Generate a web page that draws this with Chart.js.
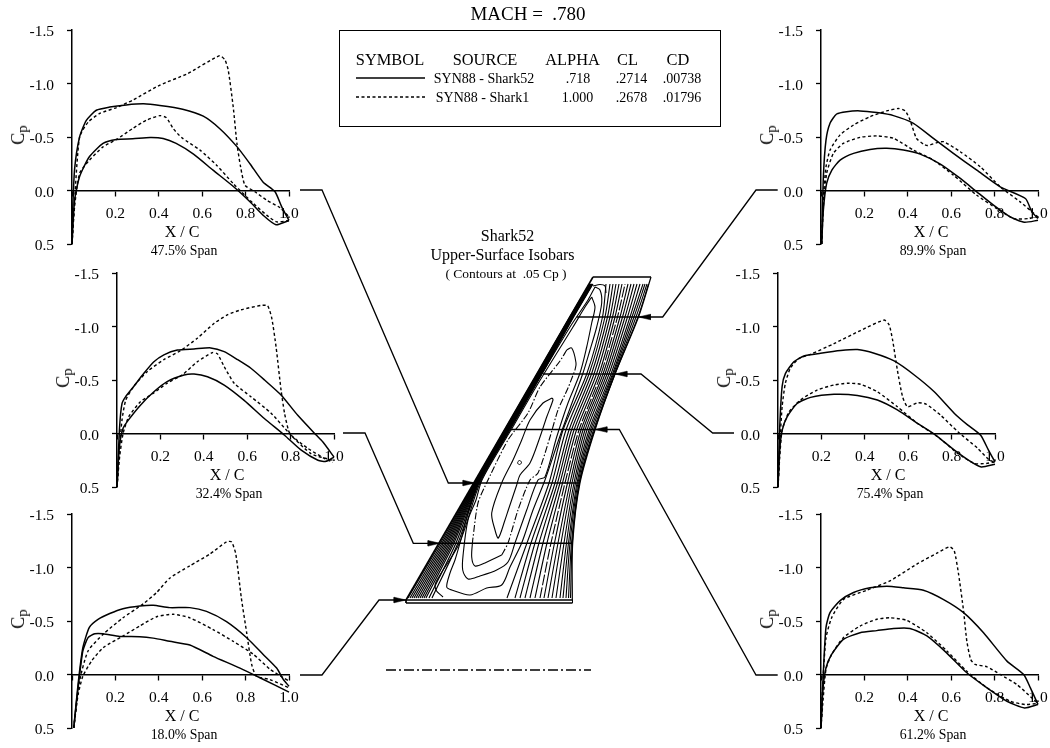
<!DOCTYPE html>
<html>
<head>
<meta charset="utf-8">
<title>Shark52 pressure distributions</title>
<script src="https://cdn.jsdelivr.net/npm/chart.js@4/dist/chart.umd.min.js"></script>
<style>
    html, body { margin: 0; padding: 0; background: #fff; }
    #page { position: relative; width: 1050px; height: 748px; overflow: hidden; font-family: "Liberation Serif", serif; color: #000; }
    #page canvas { position: absolute; }
    .txt { position: absolute; white-space: pre; transform: translate(-50%, -50%); line-height: 1; }
    .cp { transform: translate(-50%, -50%) rotate(-90deg); font-size: 18px; }
    .cp sub { font-size: 15px; vertical-align: -3px; line-height: 0; }
    #legendBox { position: absolute; left: 339px; top: 30px; width: 380px; height: 95px; border: 1.5px solid #000; }
</style>
</head>
<body>
<div id="page"></div>
<script>
// Curves are [x/c, Cp] pairs
const span475Shark52Upper = [[0,.5],[.003,.2],[.012,-.2],[.035,-.5],[.066,-.655],[.112,-.75],[.174,-.78],[.25,-.8],[.33,-.81],[.405,-.795],[.51,-.76],[.605,-.695],[.68,-.58],[.76,-.41],[.82,-.25],[.88,-.08],[.935,.01],[.966,.15],[1,.28]];
const span475Shark52Lower = [[0,.5],[.012,.09],[.035,-.13],[.08,-.315],[.143,-.44],[.205,-.477],[.28,-.483],[.36,-.495],[.42,-.486],[.48,-.44],[.56,-.34],[.65,-.19],[.745,-.035],[.82,.105],[.88,.23],[.94,.32],[1,.28]];
const span475Shark1Upper = [[0,.5],[.012,.09],[.035,-.5],[.075,-.64],[.128,-.72],[.205,-.775],[.28,-.845],[.405,-.985],[.53,-1.09],[.68,-1.26],[.705,-1.22],[.72,-1.125],[.743,-.78],[.76,-.44],[.777,-.22],[.797,-.05],[.843,.012],[.897,.09],[.958,.16],[1,.246]];
const span475Shark1Lower = [[0,.5],[.012,.15],[.035,-.16],[.08,-.283],[.143,-.408],[.205,-.477],[.28,-.58],[.343,-.657],[.405,-.7],[.435,-.68],[.466,-.58],[.505,-.495],[.59,-.377],[.666,-.237],[.743,-.065],[.835,.12],[.897,.23],[.943,.293],[1,.28]];

const span324Shark52Upper = [[0,.5],[.012,-.06],[.023,-.28],[.04,-.345],[.077,-.44],[.123,-.56],[.17,-.67],[.216,-.735],[.278,-.78],[.355,-.79],[.432,-.8],[.494,-.765],[.556,-.69],[.617,-.61],[.68,-.5],[.756,-.36],[.833,-.17],[.918,.015],[.949,.08],[1,.22]];
const span324Shark52Lower = [[0,.5],[.011,.125],[.028,-.05],[.054,-.13],[.108,-.265],[.17,-.39],[.231,-.485],[.309,-.547],[.355,-.556],[.417,-.53],[.494,-.453],[.586,-.31],[.679,-.14],[.772,.016],[.849,.156],[.926,.25],[.965,.26],[1,.22]];
const span324Shark1Upper = [[0,.5],[.012,.125],[.023,-.125],[.04,-.31],[.077,-.44],[.14,-.58],[.216,-.69],[.293,-.775],[.37,-.89],[.448,-1.03],[.51,-1.11],[.571,-1.156],[.664,-1.197],[.694,-1.194],[.713,-1.08],[.733,-.81],[.756,-.406],[.772,-.19],[.79,-.03],[.802,.016],[.88,.14],[.957,.234],[.995,.27]];
const span324Shark1Lower = [[0,.5],[.012,.22],[.028,0],[.054,-.156],[.108,-.297],[.17,-.38],[.231,-.47],[.3,-.547],[.37,-.67],[.44,-.756],[.463,-.744],[.494,-.625],[.54,-.47],[.617,-.344],[.71,-.19],[.802,.016],[.895,.19],[.995,.25]];

const span180Shark52Upper = [[.008,.5],[.028,.09],[.05,-.25],[.08,-.44],[.12,-.515],[.174,-.57],[.235,-.615],[.312,-.64],[.374,-.647],[.45,-.625],[.543,-.625],[.62,-.59],[.712,-.494],[.805,-.344],[.88,-.19],[.943,-.06],[.974,.047],[1,.11]];
const span180Shark52Lower = [[.008,.5],[.028,.125],[.05,-.22],[.074,-.344],[.105,-.38],[.143,-.38],[.22,-.356],[.312,-.353],[.374,-.34],[.45,-.31],[.543,-.275],[.65,-.17],[.774,-.06],[.866,.03],[1,.165]];
const span180Shark1Upper = [[.008,.5],[.035,.06],[.074,-.22],[.143,-.375],[.235,-.53],[.328,-.66],[.39,-.766],[.45,-.9],[.543,-1.016],[.635,-1.125],[.712,-1.24],[.735,-1.24],[.755,-1.125],[.78,-.72],[.805,-.39],[.828,-.094],[.85,.016],[.912,.047],[1,.125]];
const span180Shark1Lower = [[.008,.5],[.028,.19],[.05,.016],[.09,-.125],[.143,-.25],[.235,-.36],[.312,-.453],[.39,-.54],[.466,-.5625],[.543,-.53],[.65,-.42],[.743,-.31],[.835,-.19],[.912,-.05],[.974,.03],[1,.06]];

const span899Shark52Upper = [[.003,.5],[.011,-.13],[.023,-.47],[.042,-.63],[.072,-.715],[.118,-.737],[.18,-.744],[.257,-.728],[.334,-.7],[.426,-.628],[.518,-.4875],[.61,-.347],[.718,-.19],[.826,-.034],[.942,.075],[.972,.2],[1,.2625]];
const span899Shark52Lower = [[.003,.5],[.011,.18],[.026,-.066],[.05,-.19],[.088,-.284],[.15,-.347],[.226,-.384],[.303,-.394],[.38,-.378],[.457,-.34],[.55,-.247],[.642,-.1125],[.718,.0125],[.795,.1375],[.872,.247],[.937,.297],[1,.278]];
const span899Shark1Upper = [[.003,.5],[.011,.06],[.023,-.22],[.042,-.378],[.088,-.52],[.15,-.6125],[.226,-.69],[.303,-.744],[.357,-.766],[.388,-.744],[.41,-.66],[.44,-.4875],[.472,-.434],[.49,-.42],[.534,-.447],[.565,-.456],[.642,-.3625],[.734,-.222],[.826,-.034],[.918,.106],[1,.247]];
const span899Shark1Lower = [[.003,.5],[.011,.15],[.026,-.16],[.057,-.347],[.103,-.44],[.18,-.497],[.257,-.51],[.334,-.4875],[.426,-.378],[.518,-.284],[.61,-.144],[.718,.044],[.81,.169],[.888,.2625],[.957,.2625],[1,.247]];

const span754Shark52Upper = [[0,.5],[.008,-.06],[.019,-.44],[.034,-.56],[.073,-.67],[.119,-.725],[.196,-.75],[.289,-.775],[.366,-.784],[.443,-.75],[.535,-.678],[.628,-.547],[.72,-.39],[.813,-.1875],[.875,-.078],[.934,.016],[.97,.156],[1,.266]];
const span754Shark52Lower = [[0,.5],[.008,.156],[.019,-.03],[.042,-.156],[.088,-.28],[.15,-.3375],[.258,-.366],[.366,-.356],[.458,-.3125],[.55,-.22],[.643,-.094],[.72,.006],[.813,.156],[.89,.266],[.937,.3125],[1,.2875]];
const span754Shark1Upper = [[0,.5],[.008,.12],[.019,-.25],[.034,-.47],[.057,-.61],[.096,-.7],[.15,-.74],[.258,-.84],[.38,-.9625],[.489,-1.06],[.512,-1.016],[.528,-.875],[.55,-.594],[.574,-.344],[.597,-.25],[.643,-.2875],[.682,-.275],[.75,-.17],[.829,-.016],[.921,.14],[.975,.25],[1,.266]];
const span754Shark1Lower = [[0,.5],[.008,.22],[.019,-.03],[.05,-.2],[.103,-.3125],[.18,-.406],[.258,-.453],[.32,-.47],[.38,-.46],[.458,-.39],[.55,-.25],[.643,-.094],[.736,.03],[.829,.1875],[.906,.28],[.96,.28],[1,.266]];

const span612Shark52Upper = [[0,.5],[.011,-.03],[.023,-.44],[.042,-.58],[.088,-.69],[.15,-.766],[.226,-.81],[.303,-.825],[.38,-.81],[.472,-.7875],[.565,-.7],[.657,-.578],[.749,-.39],[.857,-.125],[.934,0],[.965,.125],[1,.28]];
const span612Shark52Lower = [[0,.5],[.008,.156],[.023,-.0625],[.049,-.1875],[.103,-.328],[.18,-.39],[.257,-.41],[.334,-.43],[.41,-.43],[.488,-.36],[.58,-.2],[.672,-.016],[.765,.125],[.857,.25],[.938,.3125],[1,.28]];
const span612Shark1Upper = [[0,.5],[.008,.09],[.023,-.34],[.049,-.53],[.103,-.7],[.21,-.7875],[.318,-.875],[.44,-1.03],[.534,-1.134],[.592,-1.194],[.614,-1.156],[.634,-.9375],[.657,-.594],[.672,-.3125],[.69,-.14],[.71,-.094],[.765,-.072],[.826,0],[.903,.094],[.98,.234],[1,.27]];
const span612Shark1Lower = [[0,.5],[.008,.28],[.023,-.05],[.049,-.1875],[.103,-.344],[.18,-.453],[.257,-.516],[.318,-.53],[.395,-.506],[.488,-.39],[.58,-.22],[.672,-.03],[.765,.125],[.872,.25],[.94,.28],[1,.27]];

// Tick labels and panel captions
const cpTicks = [-1.5, -1.0, -0.5, 0.0, 0.5];
const chordTicks = [0.2, 0.4, 0.6, 0.8, 1.0];
const legendHeaders = ['SYMBOL', 'SOURCE', 'ALPHA', 'CL', 'CD'];
const legendShark52 = ['SYN88 - Shark52', '.718', '.2714', '.00738'];
const legendShark1 = ['SYN88 - Shark1', '1.000', '.2678', '.01796'];

// Wing planform and isobars, in page units (x right, y down)
const leadingEdge = [[406,600],[593,277]];
const tipEdge = [[593,277],[651,277]];
const trailingEdge = [[651,277],[638.5,317],[615,374],[595,430],[580,483],[572.7,543],[572.3,600]];
const rootTop = [[406,600],[572.5,600]];
const rootBottom = [[406,603],[572.5,603]];

// Isobars running root to tip, x at each of these y stations
const isobarStations = [598, 543, 483, 430, 374, 317, 284];
const leadingIsobars = [
    [408,440.5,474.2,504.6,537,569.8,589.3],
    [410,442,474.6,505,537.4,570.1,589.6],
    [412,443.5,475,505.4,537.8,570.4,589.9],
    [414,445,475.4,505.8,538.2,570.7,590.2],
    [416,446.5,475.8,506.2,538.6,571,590.5],
    [418,448,476.2,506.6,539,571.3,590.8],
    [420,449.5,476.6,507,539.4,571.6,591.1],
    [422,451,477,507.4,539.8,571.9,591.4],
    [424,452.5,477.4,507.8,540.2,572.2,591.7],
    [426,454,478,508.2,540.6,572.5,592],
    [429,456,478.5,508.8,541,572.9,592.3],
    [432,458,479,509.5,541.5,573.3,592.6]
];
const trailingIsobars = [
    [507,527,549,563,586.7,602.5,606],
    [515,531,552,566,589,605,610],
    [520,535,555,569,591.5,607.5,613],
    [525,539,557.5,571.5,594,610,616],
    [530,543,560,574,596.5,612.5,619],
    [535,547,562.5,576.5,599,615,622],
    [540,551,565,579,601,617.5,625],
    [544,554.5,567.5,581,603,620,628],
    [548,558,570,583,605,622.5,631],
    [552,561,572,585,607,625,634],
    [556,564,574,587,609,627.5,637],
    [560,566.5,575.5,589,611,630,640],
    [563,568.5,577,590.5,612.5,632,643],
    [566,570,578,592,613.5,634,645],
    [568.5,571.5,579,593.5,614.5,636,647],
    [570.5,572.3,579.5,594.5,615,638,648.5]
];
const dottedIsobar = 6; // this one shows white specks in the original

// Closed and U-shaped isobars
const rootCurlIsobar = [[443,597],[436,590],[436,582],[459.5,543],[480,483],[510,430],[542,374],[573.6,317],[593,284]];
const outerLoopIsobar = [[595,287],[600,290],[601.7,303],[596.7,327],[590,350],[583,373],[572,403],[560,436],[545,480],[533,510],[521.7,543],[510,567],[501.7,585],[486.7,588],[470,595],[451.7,590],[446.7,587],[450,573],[455,560],[460,543],[471.7,500],[479,480],[503,440],[511,425],[534,387],[570,327],[588,300],[595,287]];
const middleLoopIsobar = [[591.7,297],[595,307],[591.7,323],[586.7,347],[580,373],[568,403],[556.7,437],[545,477],[538,480],[526.7,510],[515,543],[508,562],[496.7,570],[480,576],[468,579],[462.7,570],[463.3,553],[468,520],[476,500],[482,480],[505,440],[514,425],[536,387],[573,327],[585,307],[591.7,297]];
const sonicLeft = [[566.7,350],[560,361],[540,387],[528,413],[508,440],[488,480],[478,503],[472.7,540]];
const sonicBottom = [[472.7,540],[471.7,557],[475,566],[485,563],[501.7,555]];
const sonicRight = [[501.7,555],[508,543],[518,510],[530,480],[538,473],[550,437],[558,410],[568,388],[575,370]];
const sonicTop = [[575,370],[576,363],[571.7,348],[566.7,350]];
const innerLoopIsobar = [[552.3,398],[553,400],[546.7,417],[540,437],[530,463],[520,475],[516.7,485],[508.3,510],[505,520],[498.3,538],[495,530],[491.7,513],[501.7,483],[513,460],[521.7,440],[530,420],[543,403],[552.3,398]];
const smallLoopIsobar = [[519.5,460.5],[521.5,462],[520,464.5],[517.8,463.5],[518,461.5],[519.5,460.5]];
const tipHairpin = [[593,286],[600,284.5],[605,286],[606,293]];

// Section cuts on the wing and leader lines out to each panel
const sectionCuts = [
    [[576.7,317],[638.5,317]],
    [[543,374],[615,374]],
    [[510,429.5],[595,429.5]],
    [[475,483],[580,483]],
    [[440,543.3],[572.7,543.3]]
];
const leaders = [
    [[777.7,190],[756,190],[662.7,317],[638.5,317]],
    [[734,433],[712.7,433],[641,374],[615,374]],
    [[777.7,675],[756,675],[619.3,429.5],[595,429.5]],
    [[300,190],[322,190],[448.3,483],[475,483]],
    [[343,433],[365,433],[413.3,543.3],[440,543.3]],
    [[300,675],[322,675],[379,600],[406,600]]
];
const arrowTips = [[638.5,317,1],[615,374,1],[595,429.5,1],[475,483,-1],[440,543.3,-1],[406,600,-1]];
const centerline = [[386,670],[591,670]];
const legendSolidSample = [[356,78],[425,78]];
const legendDashSample = [[356,97],[425,97]];

// Panel placement on the page
const panels = [
    { caption: '47.5% Span', left: 72, top: 30, solid: [span475Shark52Upper, span475Shark52Lower], dashed: [span475Shark1Upper, span475Shark1Lower] },
    { caption: '32.4% Span', left: 117, top: 273, solid: [span324Shark52Upper, span324Shark52Lower], dashed: [span324Shark1Upper, span324Shark1Lower] },
    { caption: '18.0% Span', left: 72, top: 514, solid: [span180Shark52Upper, span180Shark52Lower], dashed: [span180Shark1Upper, span180Shark1Lower] },
    { caption: '89.9% Span', left: 821, top: 30, solid: [span899Shark52Upper, span899Shark52Lower], dashed: [span899Shark1Upper, span899Shark1Lower] },
    { caption: '75.4% Span', left: 778, top: 273, solid: [span754Shark52Upper, span754Shark52Lower], dashed: [span754Shark1Upper, span754Shark1Lower] },
    { caption: '61.2% Span', left: 821, top: 514, solid: [span612Shark52Upper, span612Shark52Lower], dashed: [span612Shark1Upper, span612Shark1Lower] }
];
const plotWidth = 217;
const plotHeight = 214;
const fontFamily = '"Liberation Serif", serif';

const page = document.getElementById('page');
const toPoints = pairs => pairs.map(([x, y]) => ({ x, y }));

function addText(str, x, y, size, extraClass) {
    const el = document.createElement('div');
    el.className = 'txt' + (extraClass ? ' ' + extraClass : '');
    el.style.left = x + 'px';
    el.style.top = y + 'px';
    if (size) el.style.fontSize = size + 'px';
    el.innerHTML = str;
    page.appendChild(el);
}

function addCanvas(left, top, width, height) {
    const canvas = document.createElement('canvas');
    canvas.width = width;
    canvas.height = height;
    canvas.style.left = left + 'px';
    canvas.style.top = top + 'px';
    canvas.style.width = width + 'px';
    canvas.style.height = height + 'px';
    page.appendChild(canvas);
    return canvas.getContext('2d');
}

// Line helper for the wing drawing
function pathSet(pairs, width, dash, tension) {
    return {
        data: toPoints(pairs),
        borderColor: '#000',
        borderWidth: width,
        borderDash: dash || [],
        tension: tension || 0,
        pointRadius: 0,
        fill: false
    };
}

function buildWingDatasets() {
    const sets = [];
    sets.push(pathSet(leadingEdge, 1.6));
    sets.push(pathSet(tipEdge, 1.4));
    sets.push(pathSet(trailingEdge, 1.2, null, 0.3));
    sets.push(pathSet(rootTop, 1.5));
    sets.push(pathSet(rootBottom, 1.5));
    sets.push(pathSet([[406,600],[406,603]], 1));
    sets.push(pathSet([[572.5,600],[572.5,603]], 1));

    leadingIsobars.forEach(row => {
        sets.push(pathSet(row.map((x, i) => [x, isobarStations[i]]), 1.2, null, 0.25));
    });
    trailingIsobars.forEach((row, k) => {
        const dash = k === dottedIsobar ? [11, 2] : null;
        sets.push(pathSet(row.map((x, i) => [x, isobarStations[i]]), 1.1, dash, 0.25));
    });

    sets.push(pathSet(rootCurlIsobar, 1.1, null, 0.3));
    sets.push(pathSet(outerLoopIsobar, 1.1, null, 0.3));
    sets.push(pathSet(middleLoopIsobar, 1.1, null, 0.3));
    sets.push(pathSet(sonicLeft, 1.1, [7, 2, 1.5, 2], 0.25));
    sets.push(pathSet(sonicBottom, 1.1, null, 0.3));
    sets.push(pathSet(sonicRight, 1.1, [7, 2, 1.5, 2], 0.25));
    sets.push(pathSet(sonicTop, 1.1, null, 0.4));
    sets.push(pathSet(innerLoopIsobar, 1.1, null, 0.3));
    sets.push(pathSet(smallLoopIsobar, 1, null, 0.4));
    sets.push(pathSet(tipHairpin, 1.1, null, 0.3));

    sectionCuts.forEach(cut => sets.push(pathSet(cut, 1.6)));
    leaders.forEach(path => sets.push(pathSet(path, 1.3)));

    // Arrowheads as filled triangles pointing at the wing
    arrowTips.forEach(([x, y, side]) => {
        sets.push({
            data: toPoints([[x, y], [x + side * 12, y - 2.8], [x + side * 12, y + 2.8], [x, y]]),
            borderColor: '#000',
            backgroundColor: '#000',
            borderWidth: 0.5,
            pointRadius: 0,
            fill: 'shape'
        });
    });

    sets.push(pathSet(centerline, 1.4, [10, 3, 2, 3]));
    sets.push(pathSet(legendSolidSample, 1.5));
    sets.push(pathSet(legendDashSample, 1.4, [3, 2.5]));
    return sets;
}

// Full page chart holding the wing, the leaders and the legend samples
new Chart(addCanvas(0, 0, 1050, 748), {
    type: 'line',
    data: { datasets: buildWingDatasets() },
    options: {
        responsive: false,
        animation: false,
        devicePixelRatio: 1,
        parsing: false,
        layout: { padding: 0 },
        plugins: { legend: { display: false }, tooltip: { enabled: false } },
        scales: {
            x: { type: 'linear', min: 0, max: 1050, display: false },
            y: { type: 'linear', min: 0, max: 748, reverse: true, display: false }
        }
    }
});

// One small Cp chart for each span station
function curveSet(pairs, dashed) {
    return {
        data: toPoints(pairs),
        borderColor: '#000',
        borderWidth: dashed ? 1.4 : 1.5,
        borderDash: dashed ? [3, 2.5] : [],
        tension: 0.2,
        pointRadius: 0,
        clip: false
    };
}

panels.forEach(panel => {
    const axisRoom = 60;
    const pad = 14;
    const ctx = addCanvas(panel.left - axisRoom, panel.top - pad, axisRoom + plotWidth + 3 * pad, plotHeight + 2 * pad);

    new Chart(ctx, {
        type: 'line',
        data: {
            datasets: panel.dashed.map(c => curveSet(c, true)).concat(panel.solid.map(c => curveSet(c, false)))
        },
        options: {
            responsive: false,
            animation: false,
            devicePixelRatio: 1,
            layout: { padding: { top: pad, bottom: pad, right: pad * 3, left: 0 } },
            plugins: { legend: { display: false }, tooltip: { enabled: false } },
            scales: {
                x: {
                    type: 'linear',
                    position: { y: 0 },
                    min: 0,
                    max: 1,
                    afterBuildTicks: axis => { axis.ticks = [0].concat(chordTicks).map(value => ({ value })); },
                    grid: { drawOnChartArea: false, tickLength: 5, color: '#000', tickWidth: 1.3 },
                    border: { color: '#000', width: 1.5 },
                    ticks: {
                        color: '#000',
                        padding: 9,
                        maxRotation: 0,
                        autoSkip: false,
                        font: { family: fontFamily, size: 15.5 },
                        callback: v => (v === 0 ? '' : v.toFixed(1))
                    }
                },
                y: {
                    type: 'linear',
                    reverse: true,
                    min: -1.5,
                    max: 0.5,
                    afterFit: axis => {
                        axis.width = axisRoom;
                        axis.paddingTop = 0;
                        axis.paddingBottom = 0;
                    },
                    afterBuildTicks: axis => { axis.ticks = cpTicks.map(value => ({ value })); },
                    grid: { drawOnChartArea: false, tickLength: 5, color: '#000', tickWidth: 1.3 },
                    border: { color: '#000', width: 1.5 },
                    ticks: {
                        color: '#000',
                        padding: 13,
                        labelOffset: 2,
                        font: { family: fontFamily, size: 15.5 },
                        callback: v => v.toFixed(1)
                    }
                }
            }
        }
    });

    addText('X / C', panel.left + 110, panel.top + 202, 16);
    addText(panel.caption, panel.left + 112, panel.top + 221, 13.8);
    addText('C<sub>p</sub>', panel.left - 54, panel.top + 105, null, 'cp');
});

// Heading, wing captions and the legend box
const legendBox = document.createElement('div');
legendBox.id = 'legendBox';
page.appendChild(legendBox);

addText('MACH =  .780', 528, 13, 19);
addText('Shark52', 507.5, 236, 16);
addText('Upper-Surface Isobars', 502.5, 255, 16);
addText('( Contours at  .05 Cp )', 506, 274, 13.5);

const headerX = [390, 485, 572.5, 627.5, 678];
legendHeaders.forEach((label, i) => addText(label, headerX[i], 60, 16.4));
const rowX = [484, 578, 631.5, 682];
legendShark52.forEach((label, i) => addText(label, rowX[i], 78.5, 14));
const rowXShark1 = [482.5, 577.5, 631.5, 682];
legendShark1.forEach((label, i) => addText(label, rowXShark1[i], 97.5, 14));
</script>
</body>
</html>
